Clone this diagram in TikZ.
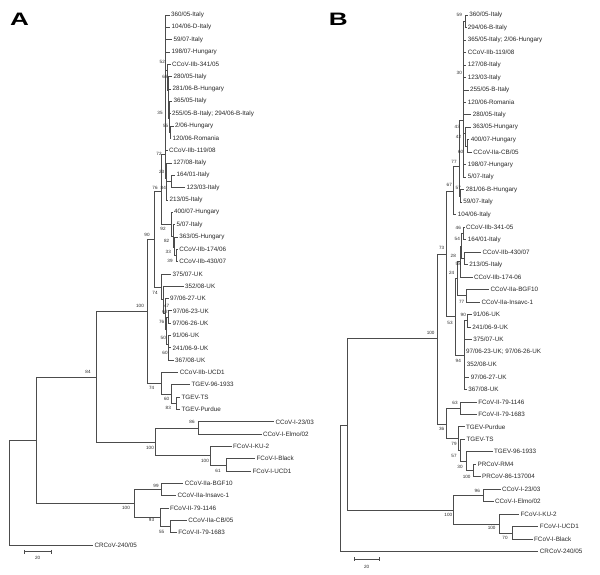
\documentclass[tikz,border=0pt]{standalone}
\usepackage{fontspec}
\setmainfont{Liberation Sans}

\tikzset{
  branch/.style={draw=black!70, line width=0.65pt},
  leaf/.style={anchor=west, inner sep=1.4pt, text=black!85, font=\fontsize{6.3}{7}\selectfont},
  boot/.style={inner sep=0pt, text=black!85, font=\fontsize{4.6}{5}\selectfont},
  panel/.style={inner sep=0pt, font=\fontsize{18}{18}\selectfont\bfseries}
}

% parent, name, tip x, y, label
\def\leaf#1#2#3#4#5{%
  \node[leaf] (#2) at (#3,#4) {#5};
  \draw[branch] (#1) |- (#2.west);
}
% parent, name, x, y
\def\clade#1#2#3#4{%
  \coordinate (#2) at (#3,#4);
  \draw[branch] (#1) |- (#2);
}
% name, x, y, value
\def\boot#1#2#3#4{\node[boot] (#1) at (#2,#3) {#4};}

\begin{document}
\begin{tikzpicture}[x=1pt,y=-1pt]
\useasboundingbox (0,0) rectangle (600,574);

% ---------------- A
\node[panel] (pA) at (19.5,19.5) {\scalebox{1.45}[1]{A}};
\coordinate (aR) at (9,492.5);
\leaf{aR}{aL43}{93}{545.0}{CRCoV-240/05}
\clade{aR}{a36}{36}{440}
\clade{a36}{a84}{96}{377}
\clade{a36}{aII}{134.3}{503}
\clade{a84}{a100}{147}{311}
\clade{a84}{aI}{155.7}{442}
% CCoV-I / FCoV-I
\clade{aI}{aCI}{198}{428}
\leaf{aCI}{aL33}{274}{421.8}{CCoV-I-23/03}
\leaf{aCI}{aL34}{261.5}{434.1}{CCoV-I-Elmo/02}
\clade{aI}{aFI}{210}{455}
\leaf{aFI}{aL35}{231.5}{446.4}{FCoV-I-KU-2}
\clade{aFI}{a61}{226.7}{464.9}
\leaf{a61}{aL36}{255}{458.7}{FCoV-I-Black}
\leaf{a61}{aL37}{251}{471.1}{FCoV-I-UCD1}
% CCoV-IIa / FCoV-II
\clade{aII}{a99}{161.7}{489.5}
\leaf{a99}{aL38}{183.3}{483.4}{CCoV-IIa-BGF10}
\leaf{a99}{aL39}{176}{495.7}{CCoV-IIa-Insavc-1}
\clade{aII}{a93}{160}{517}
\leaf{a93}{aL40}{168.5}{508.0}{FCoV-II-79-1146}
\clade{a93}{a55}{170.7}{526.5}
\leaf{a55}{aL41}{186.7}{520.4}{CCoV-IIa-CB/05}
\leaf{a55}{aL42}{176.7}{532.7}{FCoV-II-79-1683}
% TGEV
\clade{a100}{a74}{161}{383}
\leaf{a74}{aL29}{178.3}{372.5}{CCoV-IIb-UCD1}
\clade{a74}{a60}{171.7}{394}
\leaf{a60}{aL30}{190}{384.8}{TGEV-96-1933}
\clade{a60}{a83}{176}{403.3}
\leaf{a83}{aL31}{180}{397.1}{TGEV-TS}
\leaf{a83}{aL32}{180}{409.4}{TGEV-Purdue}
% CCoV-IIb
\clade{a100}{a90}{154.3}{239}
\clade{a90}{a76}{161.5}{191.5}
\clade{a90}{aUK}{161.5}{287}
\leaf{aUK}{aL21}{171}{273.9}{375/07-UK}
\clade{aUK}{aUK2}{163.5}{299.5}
\leaf{aUK2}{aL22}{183.5}{286.2}{352/08-UK}
\clade{aUK2}{aUK3}{165.5}{313}
\leaf{aUK3}{aL23}{168.5}{298.5}{97/06-27-UK}
\clade{aUK3}{aUK4}{166.5}{329.5}
\clade{aUK4}{aUK5}{168.5}{317}
\leaf{aUK5}{aL24}{171.5}{310.8}{97/06-23-UK}
\leaf{aUK5}{aL25}{171}{323.2}{97/06-26-UK}
\clade{aUK4}{aUK6}{168}{344}
\leaf{aUK6}{aL26}{171}{335.5}{91/06-UK}
\clade{aUK6}{aUK7}{168.5}{354}
\leaf{aUK7}{aL27}{171}{347.8}{241/06-9-UK}
\leaf{aUK7}{aL28}{173.5}{360.1}{367/08-UK}
\clade{a76}{a92}{171.5}{224}
\leaf{a92}{aL16}{172.5}{212.2}{400/07-Hungary}
\clade{a92}{a82}{173}{236}
\leaf{a82}{aL17}{175}{224.5}{5/07-Italy}
\clade{a82}{a33}{174.5}{247}
\leaf{a33}{aL18}{177.7}{236.9}{363/05-Hungary}
\clade{a33}{a39}{176}{255.4}
\leaf{a39}{aL19}{177.7}{249.2}{CCoV-IIb-174/06}
\leaf{a39}{aL20}{177.7}{261.5}{CCoV-IIb-430/07}
\clade{a76}{a72}{165}{154}
\leaf{a72}{aL11}{167.5}{150.6}{CCoV-IIb-119/08}
\clade{a72}{a23}{166.5}{178}
\leaf{a23}{aL12}{171.7}{162.9}{127/08-Italy}
\clade{a23}{a84s}{171.7}{181.4}
\leaf{a84s}{aL13}{175}{175.2}{164/01-Italy}
\leaf{a84s}{aL14}{185}{187.6}{123/03-Italy}
\leaf{a23}{aL15}{168}{199.9}{213/05-Italy}
\clade{a72}{aT}{165.8}{60}
\leaf{aT}{aL0}{169.5}{15.0}{360/05-Italy}
\leaf{aT}{aL1}{170}{27.3}{104/06-D-Italy}
\leaf{aT}{aL2}{172}{39.7}{59/07-Italy}
\leaf{aT}{aL3}{170}{52.0}{198/07-Hungary}
\clade{aT}{a52}{167.2}{70}
\leaf{a52}{aL4}{170.5}{64.3}{CCoV-IIb-341/05}
\clade{a52}{a68}{168.5}{90}
\leaf{a68}{aL5}{172}{76.6}{280/05-Italy}
\leaf{a68}{aL6}{171}{89.0}{281/06-B-Hungary}
\clade{a68}{a35}{169.2}{118}
\leaf{a35}{aL7}{172}{101.3}{365/05-Italy}
\leaf{a35}{aL8}{170.5}{113.6}{255/05-B-Italy; 294/06-B-Italy}
\clade{a35}{a55t}{170}{132}
\leaf{a55t}{aL9}{173.5}{125.9}{2/06-Hungary}
\leaf{a55t}{aL10}{171}{138.3}{120/06-Romania}

\boot{bA84}{88}{372}{84}
\boot{bA100a}{140}{306}{100}
\boot{bA100b}{150}{447.5}{100}
\boot{bA100c}{126}{508}{100}
\boot{bA86}{192}{422}{86}
\boot{bA100d}{205}{461}{100}
\boot{bA61}{218}{471}{61}
\boot{bA99}{156}{485.5}{99}
\boot{bA93}{151.5}{520}{93}
\boot{bA55}{161.7}{532}{55}
\boot{bA90}{147}{234.5}{90}
\boot{bA74t}{151.7}{388.3}{74}
\boot{bA60t}{166.7}{399}{60}
\boot{bA83}{168.3}{408.3}{83}
\boot{bA76}{155}{187.7}{76}
\boot{bA74u}{155}{293}{74}
\boot{bA47}{166.7}{306}{47}
\boot{bA62}{165}{311.7}{62}
\boot{bA76u}{161.7}{321.7}{76}
\boot{bA50}{163.3}{337.7}{50}
\boot{bA60u}{165}{352.7}{60}
\boot{bA72}{159}{154}{72}
\boot{bA23}{161.7}{171.7}{23}
\boot{bA84s}{163.3}{187.7}{84}
\boot{bA92}{163}{229}{92}
\boot{bA82}{166.7}{241}{82}
\boot{bA33}{168.3}{251.7}{33}
\boot{bA39}{170}{260.7}{39}
\boot{bA52}{162.3}{61.7}{52}
\boot{bA68}{165}{76.7}{68}
\boot{bA35}{160}{112.7}{35}
\boot{bA55t}{165.7}{126}{55}

% scale A
\coordinate (sA1) at (24.3,551.7);
\coordinate (sA2) at (51,551.7);
\draw[branch] (sA1) -- (sA2);
\draw[branch] ([yshift=1.8pt]sA1) -- ([yshift=-1.8pt]sA1);
\draw[branch] ([yshift=1.8pt]sA2) -- ([yshift=-1.8pt]sA2);
\boot{sAt}{37.7}{558.3}{20}

% ---------------- B
\node[panel] (pB) at (338.3,19.5) {\scalebox{1.45}[1]{B}};
\coordinate (bR) at (340,488.5);
\leaf{bR}{bL43}{538.3}{551.7}{CRCoV-240/05}
\clade{bR}{b347}{347.7}{425.5}
\clade{b347}{b100}{437.3}{338.3}
\clade{b347}{bCF}{453}{510}
% CCoV-I / FCoV-I
\clade{bCF}{bCI}{483.3}{495.5}
\leaf{bCI}{bL38}{500.5}{489.2}{CCoV-I-23/03}
\leaf{bCI}{bL39}{493.5}{501.7}{CCoV-I-Elmo/02}
\clade{bCF}{bFI}{499.3}{524}
\leaf{bFI}{bL40}{519}{514.2}{FCoV-I-KU-2}
\clade{bFI}{b70}{512.7}{533}
\leaf{b70}{bL41}{538.3}{526.7}{FCoV-I-UCD1}
\leaf{b70}{bL42}{532.5}{539.2}{FCoV-I-Black}
% FCoV-II / TGEV
\clade{b100}{bII}{446.7}{254}
\clade{b100}{b36}{446.7}{424}
\clade{b36}{b63}{460.7}{408.1}
\leaf{b63}{bL31}{476.7}{401.9}{FCoV-II-79-1146}
\leaf{b63}{bL32}{476.7}{414.4}{FCoV-II-79-1683}
\clade{b36}{b79}{458}{438.5}
\leaf{b79}{bL33}{464.5}{426.8}{TGEV-Purdue}
\clade{b79}{b57}{460.5}{450}
\leaf{b57}{bL34}{465}{439.3}{TGEV-TS}
\clade{b57}{b30}{466}{461}
\leaf{b30}{bL35}{492.5}{451.8}{TGEV-96-1933}
\clade{b30}{bPR}{473.3}{470.5}
\leaf{bPR}{bL36}{476}{464.3}{PRCoV-RM4}
\leaf{bPR}{bL37}{480.5}{476.8}{PRCoV-86-137004}
% CCoV-II
\clade{bII}{b67}{453.5}{191}
\clade{bII}{b53}{455.5}{316.5}
\clade{b67}{b77}{459.5}{166}
\leaf{b67}{bL16}{456.3}{214.7}{104/06-Italy}
\clade{b77}{b57t}{460.7}{196}
\leaf{b57t}{bL14}{464.2}{189.7}{281/06-B-Hungary}
\leaf{b57t}{bL15}{461.8}{202.2}{59/07-Italy}
\clade{b77}{bT}{463.5}{120}
\clade{bT}{b59}{465.5}{21.2}
\leaf{b59}{bL0}{467.8}{15.0}{360/05-Italy}
\leaf{b59}{bL1}{466.2}{27.5}{294/06-B-Italy}
\leaf{bT}{bL2}{466.2}{40.0}{365/05-Italy; 2/06-Hungary}
\leaf{bT}{bL3}{466.2}{52.4}{CCoV-IIb-119/08}
\leaf{bT}{bL4}{466.2}{64.9}{127/08-Italy}
\leaf{bT}{bL5}{466.2}{77.4}{123/03-Italy}
\leaf{bT}{bL6}{468.5}{89.9}{255/05-B-Italy}
\leaf{bT}{bL7}{466.2}{102.4}{120/06-Romania}
\leaf{bT}{bL8}{471.2}{114.8}{280/05-Italy}
\clade{bT}{b43}{465.5}{133.5}
\leaf{b43}{bL9}{471.2}{127.3}{363/05-Hungary}
\clade{b43}{b42}{467}{146}
\leaf{b42}{bL10}{469.2}{139.8}{400/07-Hungary}
\leaf{b42}{bL11}{471.8}{152.3}{CCoV-IIa-CB/05}
\leaf{bT}{bL12}{466.2}{164.8}{198/07-Hungary}
\leaf{bT}{bL13}{466.2}{177.2}{5/07-Italy}
\clade{b53}{b24}{457.5}{278}
\clade{b24}{b28}{460}{261}
\clade{b28}{b54}{461.5}{246}
\clade{b54}{b46}{463}{233.4}
\leaf{b46}{bL17}{464.5}{227.2}{CCoV-IIb-341-05}
\leaf{b46}{bL18}{466.2}{239.6}{164/01-Italy}
\clade{b54}{b58}{464.5}{258.4}
\leaf{b58}{bL19}{481}{252.1}{CCoV-IIb-430/07}
\leaf{b58}{bL20}{467.8}{264.6}{213/05-Italy}
\leaf{b28}{bL21}{472.5}{277.1}{CCoV-IIb-174-06}
\clade{b24}{bIIa}{466.7}{295.8}
\leaf{bIIa}{bL22}{489}{289.6}{CCoV-IIa-BGF10}
\leaf{bIIa}{bL23}{480}{302.0}{CCoV-IIa-Insavc-1}
\clade{b53}{bUK}{464}{355}
\clade{bUK}{b90}{467.5}{320.8}
\leaf{b90}{bL24}{471.8}{314.5}{91/06-UK}
\leaf{b90}{bL25}{470.8}{327.0}{241/06-9-UK}
\leaf{bUK}{bL26}{471.8}{339.5}{375/07-UK}
\leaf{bUK}{bL27}{464.5}{352.0}{97/06-23-UK; 97/06-26-UK}
\leaf{bUK}{bL28}{465.2}{364.4}{352/08-UK}
\leaf{bUK}{bL29}{469.2}{376.9}{97/06-27-UK}
\leaf{bUK}{bL30}{466.8}{389.4}{367/08-UK}

\boot{bB100a}{430.7}{333.3}{100}
\boot{bB100b}{448.3}{515}{100}
\boot{bB96}{477.3}{490.7}{96}
\boot{bB100c}{491.7}{528.3}{100}
\boot{bB70}{505}{538.3}{70}
\boot{bB73}{441.7}{248.3}{73}
\boot{bB36}{441.7}{429.3}{36}
\boot{bB63}{455}{403.3}{63}
\boot{bB79}{454}{444}{79}
\boot{bB57}{454}{455.7}{57}
\boot{bB30}{460}{467.3}{30}
\boot{bB100d}{466.7}{476.7}{100}
\boot{bB67}{449.3}{185}{67}
\boot{bB53}{450}{323.3}{53}
\boot{bB77}{454}{161.7}{77}
\boot{bB57t}{458.3}{188.3}{57}
\boot{bB59}{459.3}{15}{59}
\boot{bB30t}{459.3}{72.7}{30}
\boot{bB43}{457.3}{126.7}{43}
\boot{bB42}{458.5}{137}{42}
\boot{bB60}{460.7}{151.7}{60}
\boot{bB24}{451.7}{273.3}{24}
\boot{bB28}{453.3}{256}{28}
\boot{bB54}{457.3}{239.3}{54}
\boot{bB46}{458.3}{228.3}{46}
\boot{bB58}{458.3}{264}{58}
\boot{bB77u}{461.7}{301.7}{77}
\boot{bB90}{463.3}{315}{90}
\boot{bB94}{458.3}{360.7}{94}

% scale B
\coordinate (sB1) at (354.3,559);
\coordinate (sB2) at (379,559);
\draw[branch] (sB1) -- (sB2);
\draw[branch] ([yshift=1.8pt]sB1) -- ([yshift=-1.8pt]sB1);
\draw[branch] ([yshift=1.8pt]sB2) -- ([yshift=-1.8pt]sB2);
\boot{sBt}{366.7}{566.7}{20}
\end{tikzpicture}
\end{document}
